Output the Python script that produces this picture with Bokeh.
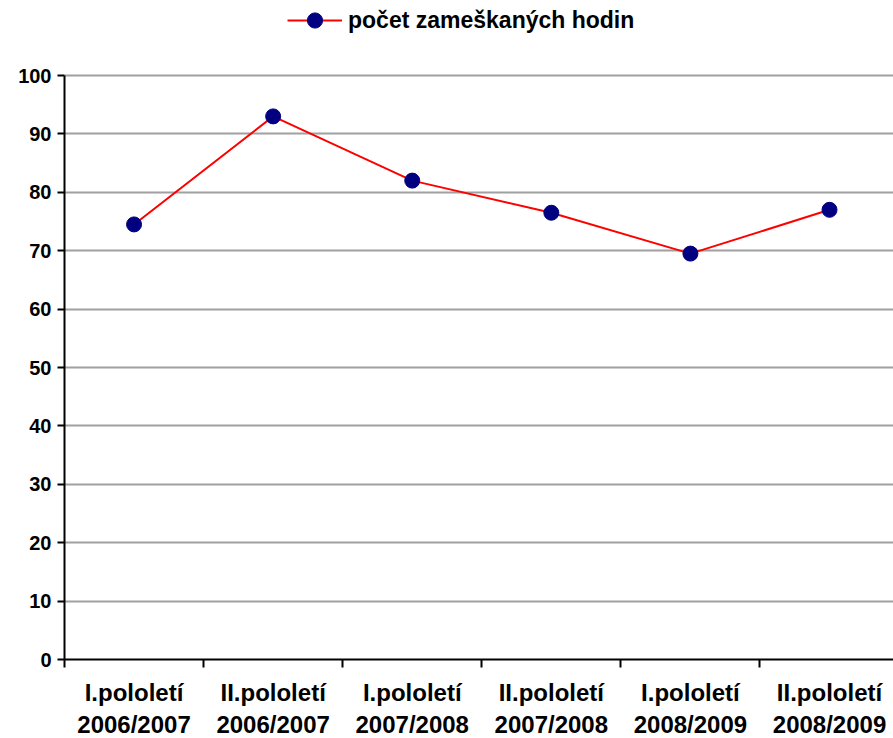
from bokeh.plotting import figure
from bokeh.models import (ColumnDataSource, Range1d, FixedTicker, Legend, LegendItem)
from bokeh.embed import file_html
from bokeh.resources import INLINE

categories = ["I.pololetí\n2006/2007", "II.pololetí\n2006/2007",
              "I.pololetí\n2007/2008", "II.pololetí\n2007/2008",
              "I.pololetí\n2008/2009", "II.pololetí\n2008/2009"]
values = [74.5, 93, 82, 76.5, 69.5, 77]
series_name = "počet zameškaných hodin"
y_ticks = [0, 10, 20, 30, 40, 50, 60, 70, 80, 90, 100]

xpos = [i + 0.5 for i in range(len(categories))]
src = ColumnDataSource(data=dict(x=xpos, y=values))

FONT = "Liberation Sans"
FRAME_H = 659          # frame spans from the top of the figure down to the x axis
AXIS_TOP_PX = 75       # pixel row where value 100 sits
Y_MAX = 100 * FRAME_H / (FRAME_H - AXIS_TOP_PX)

p = figure(frame_width=829, frame_height=FRAME_H, output_backend="svg",
           toolbar_location=None,
           x_range=Range1d(0, 5.96), y_range=Range1d(0, Y_MAX),
           min_border_left=64, min_border_right=0, min_border_top=0,
           min_border_bottom=0)
p.outline_line_color = None
p.background_fill_color = "white"
p.border_fill_color = "white"

line = p.line("x", "y", source=src, line_color="#ff0000", line_width=2)
dots = p.scatter("x", "y", source=src, size=15, fill_color="#000080",
                 line_color="#000080", marker="circle")

# x axis
p.xaxis.ticker = FixedTicker(ticks=xpos, minor_ticks=list(range(len(categories) + 1)))
p.xaxis.major_label_overrides = {x: c for x, c in zip(xpos, categories)}
p.xaxis.major_tick_out = 0
p.xaxis.major_tick_in = 0
p.xaxis.minor_tick_out = 8
p.xaxis.minor_tick_in = 0
p.xaxis.minor_tick_line_color = "black"
p.xaxis.minor_tick_line_width = 2
p.xaxis.axis_line_width = 2
p.xaxis.axis_line_color = "black"
p.xaxis.major_label_text_font = FONT
p.xaxis.major_label_text_font_style = "bold"
p.xaxis.major_label_text_font_size = "24px"
p.xaxis.major_label_text_color = "black"
p.xaxis.major_label_standoff = 11

# y axis
p.yaxis.ticker = FixedTicker(ticks=y_ticks)
p.yaxis.bounds = (0, 100)
p.yaxis.minor_tick_line_color = None
p.yaxis.major_tick_out = 7
p.yaxis.major_tick_in = 0
p.yaxis.major_tick_line_width = 2
p.yaxis.major_tick_line_color = "black"
p.yaxis.axis_line_width = 2
p.yaxis.axis_line_color = "black"
p.yaxis.major_label_text_font = FONT
p.yaxis.major_label_text_font_style = "bold"
p.yaxis.major_label_text_font_size = "20px"
p.yaxis.major_label_text_color = "black"
p.yaxis.major_label_standoff = 6

p.xgrid.grid_line_color = None
p.ygrid.ticker = FixedTicker(ticks=y_ticks)
p.ygrid.grid_line_color = "#a0a0a0"
p.ygrid.grid_line_width = 2

legend = Legend(items=[LegendItem(label=series_name, renderers=[line, dots])],
                location=(223, FRAME_H - 39), orientation="horizontal",
                border_line_color=None, background_fill_alpha=0,
                label_text_font=FONT, label_text_font_style="bold",
                label_text_font_size="23px", label_text_color="black",
                glyph_width=55, glyph_height=38, padding=0, margin=0,
                label_standoff=6)
p.add_layout(legend, "center")

open("out.html", "w").write(file_html(p, INLINE))
